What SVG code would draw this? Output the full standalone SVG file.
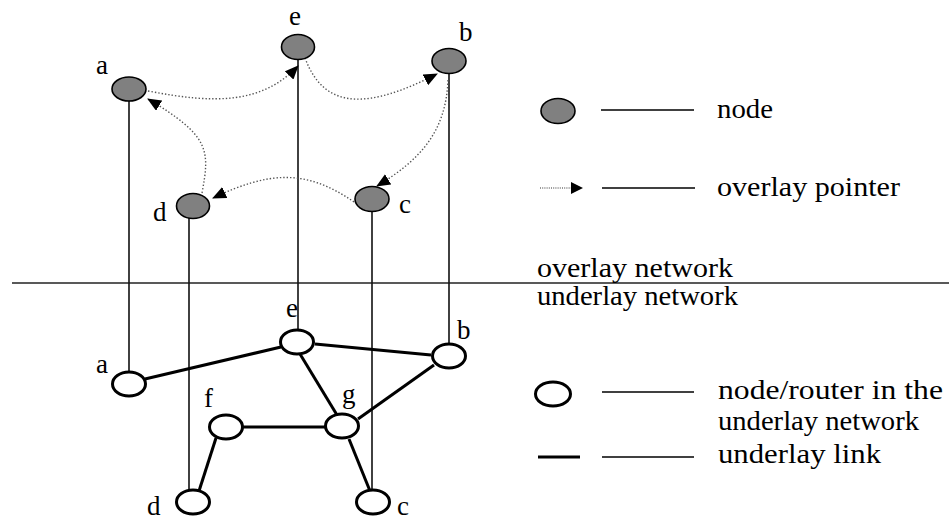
<svg xmlns="http://www.w3.org/2000/svg" width="949" height="521" viewBox="0 0 949 521">
<style>
  text { font-family: "Liberation Serif", "DejaVu Serif", serif; font-size: 27px; fill: #000; }
  .on { fill: #808080; stroke: #000; stroke-width: 1.6; }
  .un { fill: #fff; stroke: #000; stroke-width: 3; }
  .vl { stroke: #111; stroke-width: 1.6; fill: none; }
  .ul { stroke: #000; stroke-width: 3; fill: none; }
  .ptr { stroke: #555; stroke-width: 1.4; stroke-dasharray: 1.4 2; fill: none; marker-end: url(#ah); }
  .lg { stroke: #000; stroke-width: 1.4; }
</style>
<defs>
  <marker id="ah" markerUnits="userSpaceOnUse" markerWidth="14" markerHeight="12" viewBox="0 0 14 12" refX="13" refY="6" orient="auto">
    <path d="M0,0 L14,6 L0,12 Z" fill="#000"/>
  </marker>
</defs>
<rect width="949" height="521" fill="#fff"/>

<g id="divider">
  <line x1="12" y1="283" x2="949" y2="283" stroke="#222" stroke-width="1.7"/>
  <text x="537" y="277" textLength="196" lengthAdjust="spacingAndGlyphs">overlay network</text>
  <text x="537" y="305" textLength="201" lengthAdjust="spacingAndGlyphs">underlay network</text>
</g>

<g id="connectors">
  <line class="vl" x1="129" y1="100" x2="129" y2="372"/>
  <line class="vl" x1="298" y1="60" x2="298" y2="330"/>
  <line class="vl" x1="449" y1="74" x2="449" y2="344"/>
  <line class="vl" x1="189" y1="218" x2="189" y2="490"/>
  <line class="vl" x1="372" y1="211" x2="372" y2="490"/>
  <line class="ul" x1="145" y1="379" x2="281" y2="347"/>
  <line class="ul" x1="315" y1="344" x2="431" y2="355"/>
  <line class="ul" x1="300" y1="354" x2="337" y2="415"/>
  <line class="ul" x1="434" y1="365" x2="358" y2="419"/>
  <line class="ul" x1="243" y1="427" x2="325" y2="427"/>
  <line class="ul" x1="216" y1="438" x2="199" y2="491"/>
  <line class="ul" x1="349" y1="439" x2="370" y2="491"/>
  <path class="ptr" d="M148,91 C215,104 262,104 298,66"/>
  <path class="ptr" d="M305,58 C325,112 370,108 437,74"/>
  <path class="ptr" d="M448,80 C446,132 420,160 377,186"/>
  <path class="ptr" d="M354,202 C305,168 268,172 213,198"/>
  <path class="ptr" d="M202,193 C210,150 210,136 148,99"/>
</g>

<g id="overlay-a"><ellipse class="on" cx="129" cy="89" rx="17" ry="12"/><text x="96" y="74">a</text></g>
<g id="overlay-e"><ellipse class="on" cx="298" cy="47" rx="16.5" ry="12.5"/><text x="289" y="25">e</text></g>
<g id="overlay-b"><ellipse class="on" cx="449" cy="61" rx="17" ry="12.5"/><text x="459" y="41">b</text></g>
<g id="overlay-d"><ellipse class="on" cx="193" cy="206" rx="16.5" ry="12.5"/><text x="153" y="221">d</text></g>
<g id="overlay-c"><ellipse class="on" cx="372" cy="199" rx="17" ry="12.5"/><text x="399" y="213">c</text></g>

<g id="underlay-a"><ellipse class="un" cx="129" cy="384" rx="16.5" ry="12"/><text x="96" y="373">a</text></g>
<g id="underlay-e"><ellipse class="un" cx="297" cy="342" rx="16.5" ry="12"/><text x="286" y="317">e</text></g>
<g id="underlay-b"><ellipse class="un" cx="449" cy="356" rx="16.5" ry="12"/><text x="457" y="339">b</text></g>
<g id="underlay-f"><ellipse class="un" cx="226" cy="427" rx="16.5" ry="12"/><text x="204" y="407">f</text></g>
<g id="underlay-g"><ellipse class="un" cx="342" cy="426" rx="16.5" ry="12"/><text x="342" y="403">g</text></g>
<g id="underlay-d"><ellipse class="un" cx="193" cy="502" rx="16.5" ry="12"/><text x="147" y="515">d</text></g>
<g id="underlay-c"><ellipse class="un" cx="373" cy="502" rx="16.5" ry="12"/><text x="397" y="515">c</text></g>

<g id="legend">
  <ellipse class="on" cx="558" cy="111" rx="17" ry="12.5"/>
  <line class="lg" x1="601" y1="110" x2="694" y2="110"/>
  <text x="717" y="118" textLength="56" lengthAdjust="spacingAndGlyphs">node</text>

  <line x1="540" y1="188" x2="572" y2="188" stroke="#333" stroke-width="1.2" stroke-dasharray="1 1.2"/>
  <path d="M571,182 L583,188 L571,194 Z" fill="#000"/>
  <line class="lg" x1="602" y1="188" x2="695" y2="188"/>
  <text x="717" y="196" textLength="183" lengthAdjust="spacingAndGlyphs">overlay pointer</text>

  <ellipse class="un" cx="553" cy="394" rx="17.5" ry="12"/>
  <line class="lg" x1="602" y1="392" x2="694" y2="392"/>
  <text x="718" y="399" textLength="225" lengthAdjust="spacingAndGlyphs">node/router in the</text>
  <text x="718" y="430" textLength="201" lengthAdjust="spacingAndGlyphs">underlay network</text>

  <line x1="538" y1="457" x2="580" y2="457" stroke="#000" stroke-width="3"/>
  <line class="lg" x1="602" y1="457" x2="694" y2="457"/>
  <text x="718" y="463" textLength="163" lengthAdjust="spacingAndGlyphs">underlay link</text>
</g>
</svg>
